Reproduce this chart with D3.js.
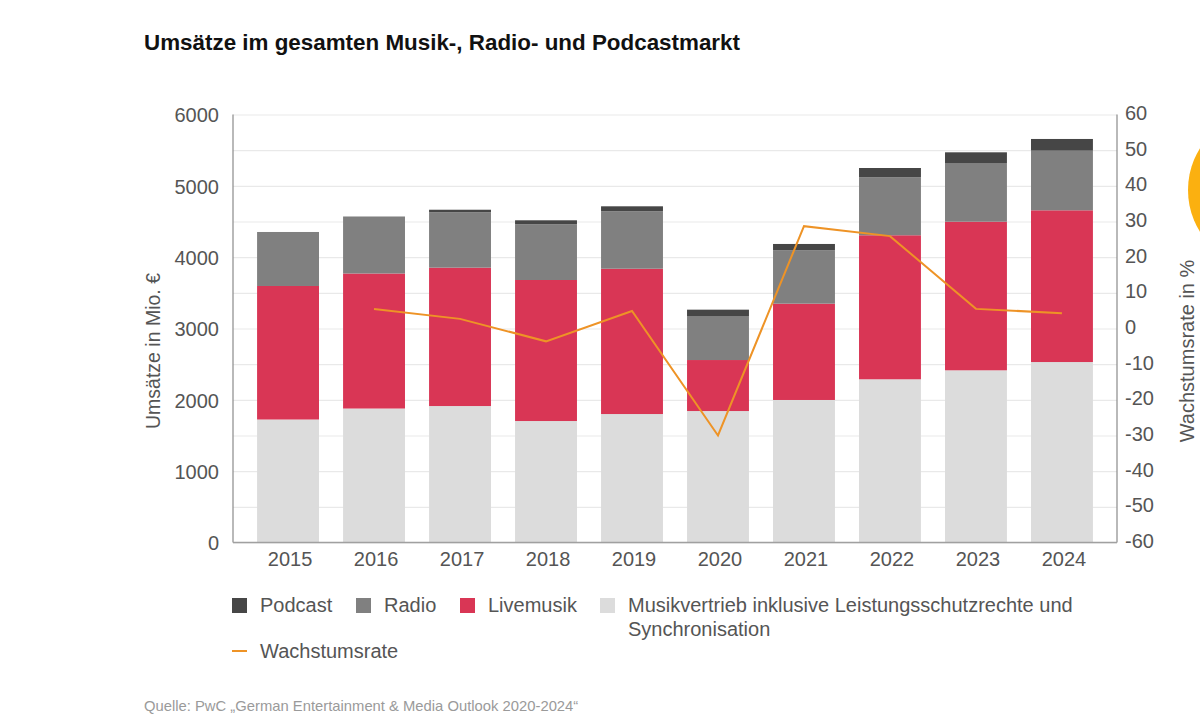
<!DOCTYPE html>
<html lang="de">
<head>
    <meta charset="UTF-8">
    <title>Umsätze im gesamten Musik-, Radio- und Podcastmarkt</title>
    <script src="https://cdnjs.cloudflare.com/ajax/libs/d3/7.8.5/d3.min.js"></script>
    <style>
      body { margin: 0; background: #fff; }
      svg { display: block; font-family: "Liberation Sans", Arial, sans-serif; }
      .domain { display: none; }
    </style>
</head>
<body>
<svg width="1200" height="724"></svg>
<script>
    const years = [2015, 2016, 2017, 2018, 2019, 2020, 2021, 2022, 2023, 2024];
    const musik = [1724, 1878, 1913, 1703, 1801, 1843, 1998, 2288, 2414, 2530];
    const live = [1872, 1893, 1940, 1977, 2037, 715, 1350, 2019, 2083, 2127];
    const radio = [757, 792, 776, 781, 805, 617, 748, 813, 823, 836];
    const podcast = [0, 5, 36, 56, 70, 89, 89, 130, 150, 164];
    const growth = [null, 5.5, 2.7, -3.6, 4.9, -30, 28.7, 25.9, 5.5, 4.3];
    const leftTicks = [0, 1000, 2000, 3000, 4000, 5000, 6000];
    const rightTicks = [60, 50, 40, 30, 20, 10, 0, -10, -20, -30, -40, -50, -60];

    const seriesNames = ['musik', 'live', 'radio', 'podcast'];
    const colors = { musik: '#dcdcdc', live: '#d93655', radio: '#808080', podcast: '#464646' };

    const plotLeft = 233, plotRight = 1117, plotTop = 114.5, plotBottom = 542.5;
    const svg = d3.select('svg');

    const x = d3.scaleBand()
      .domain(years)
      .range([plotLeft, plotRight])
      .paddingInner(0.28)
      .paddingOuter(0.28);
    const y = d3.scaleLinear().domain([0, 6000]).range([plotBottom, plotTop]);
    const yRight = d3.scaleLinear().domain([-60, 60]).range([plotBottom, plotTop]);

    // grid lines, one for each tick of the right axis
    svg.append('g')
      .attr('transform', `translate(${plotRight}, 0)`)
      .call(d3.axisLeft(yRight).tickValues(rightTicks).tickSize(plotRight - plotLeft).tickFormat(''))
      .selectAll('line')
      .attr('stroke', '#e9e9e9')
      .attr('stroke-width', 1.2);

    // stacked bars
    const rows = years.map((year, i) => ({
      year, musik: musik[i], live: live[i], radio: radio[i], podcast: podcast[i]
    }));
    svg.append('g')
      .selectAll('g')
      .data(d3.stack().keys(seriesNames)(rows))
      .join('g')
      .attr('fill', (s) => colors[s.key])
      .selectAll('rect')
      .data((s) => s)
      .join('rect')
      .attr('x', (d) => x(d.data.year))
      .attr('y', (d) => y(d[1]))
      .attr('width', x.bandwidth())
      .attr('height', (d) => y(d[0]) - y(d[1]));

    // axis lines
    svg.append('line').attr('x1', plotLeft).attr('x2', plotLeft).attr('y1', plotTop).attr('y2', plotBottom)
      .attr('stroke', '#8a8a8a').attr('stroke-width', 1.2);
    svg.append('line').attr('x1', plotRight).attr('x2', plotRight).attr('y1', plotTop).attr('y2', plotBottom)
      .attr('stroke', '#8a8a8a').attr('stroke-width', 1.2);
    svg.append('line').attr('x1', plotLeft).attr('x2', plotRight).attr('y1', plotBottom).attr('y2', plotBottom)
      .attr('stroke', '#a0a0a0').attr('stroke-width', 1.6);

    // growth line
    const line = d3.line()
      .defined((d) => d !== null)
      .x((d, i) => x(years[i]) + x.bandwidth() / 2)
      .y((d) => yRight(d));
    svg.append('path')
      .datum(growth)
      .attr('fill', 'none')
      .attr('stroke', '#ee9326')
      .attr('stroke-width', 2)
      .attr('d', line);

    // axis labels
    const styleTicks = (g) => {
      g.selectAll('text').attr('fill', '#555').style('font-size', '20px').style('font-family', 'inherit');
    };
    svg.append('g')
      .attr('transform', `translate(${plotLeft}, 0.8)`)
      .call(d3.axisLeft(y).tickValues(leftTicks).tickFormat(d3.format('d')).tickSize(0).tickPadding(14))
      .call(styleTicks);
    svg.append('g')
      .attr('transform', `translate(${plotRight}, -1.5)`)
      .call(d3.axisRight(yRight).tickValues(rightTicks).tickFormat((d) => String(d)).tickSize(0).tickPadding(8))
      .call(styleTicks);
    svg.append('g')
      .attr('transform', `translate(2, ${plotBottom})`)
      .call(d3.axisBottom(x).tickSize(0).tickPadding(9))
      .call(styleTicks);

    // titles
    svg.append('text')
      .attr('x', 144).attr('y', 50)
      .attr('font-weight', 'bold').attr('font-size', 22.4).attr('fill', '#111')
      .text('Umsätze im gesamten Musik-, Radio- und Podcastmarkt');
    svg.append('text')
      .attr('transform', 'translate(160, 351) rotate(-90)')
      .attr('text-anchor', 'middle').attr('font-size', 19.5).attr('fill', '#555')
      .text('Umsätze in Mio. €');
    svg.append('text')
      .attr('transform', 'translate(1194, 351) rotate(-90)')
      .attr('text-anchor', 'middle').attr('font-size', 20).attr('fill', '#555')
      .text('Wachstumsrate in %');

    // legend
    const legendNames = ['Podcast', 'Radio', 'Livemusik', 'Musikvertrieb inklusive Leistungsschutzrechte und'];
    const legendKeys = ['podcast', 'radio', 'live', 'musik'];
    const legendX = [232, 356, 460, 600];
    legendNames.forEach((name, i) => {
      svg.append('rect')
        .attr('x', legendX[i]).attr('y', 598).attr('width', 15).attr('height', 15)
        .attr('fill', colors[legendKeys[i]]);
      svg.append('text')
        .attr('x', legendX[i] + 28).attr('y', 612)
        .attr('font-size', 20).attr('fill', '#555')
        .text(name);
    });
    svg.append('text')
      .attr('x', 628).attr('y', 636)
      .attr('font-size', 20).attr('fill', '#555')
      .text('Synchronisation');
    svg.append('line')
      .attr('x1', 232).attr('x2', 247).attr('y1', 651).attr('y2', 651)
      .attr('stroke', '#ee9326').attr('stroke-width', 2);
    svg.append('text')
      .attr('x', 260).attr('y', 658)
      .attr('font-size', 20).attr('fill', '#555')
      .text('Wachstumsrate');

    svg.append('text')
      .attr('x', 144).attr('y', 711)
      .attr('font-size', 14.8).attr('fill', '#9a9a9a')
      .text('Quelle: PwC „German Entertainment & Media Outlook 2020-2024“');

    // page decoration cut off at the right edge
    svg.append('circle')
      .attr('cx', 1267).attr('cy', 190).attr('r', 79)
      .attr('fill', '#fbb010');
</script>
</body>
</html>
